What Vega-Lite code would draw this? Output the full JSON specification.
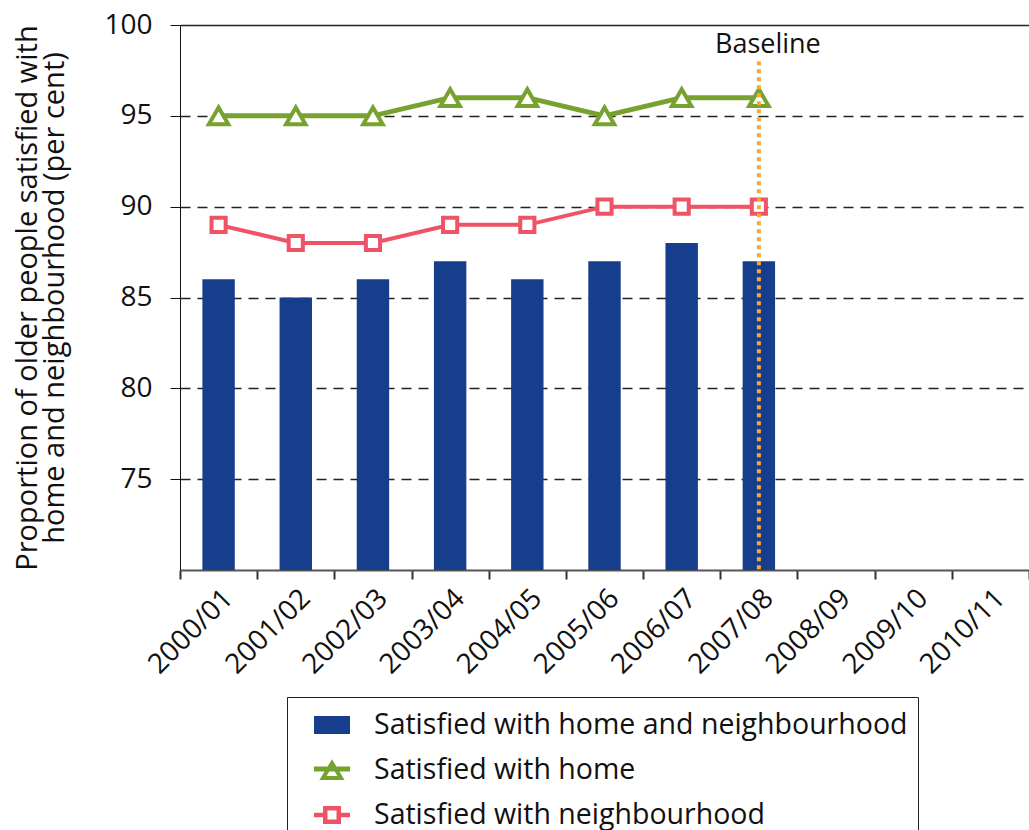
{
  "$schema": "https://vega.github.io/schema/vega-lite/v6.json",
  "width": 849,
  "height": 545,
  "autosize": "none",
  "padding": {"left": 180, "top": 25, "right": 0, "bottom": 260},
  "background": "white",
  "config": {
    "font": "Open Sans",
    "view": {"stroke": null}
  },
  "datasets": {
    "bars": [
      {"year": "2000/01", "series": "Satisfied with home and neighbourhood", "value": 86},
      {"year": "2001/02", "series": "Satisfied with home and neighbourhood", "value": 85},
      {"year": "2002/03", "series": "Satisfied with home and neighbourhood", "value": 86},
      {"year": "2003/04", "series": "Satisfied with home and neighbourhood", "value": 87},
      {"year": "2004/05", "series": "Satisfied with home and neighbourhood", "value": 86},
      {"year": "2005/06", "series": "Satisfied with home and neighbourhood", "value": 87},
      {"year": "2006/07", "series": "Satisfied with home and neighbourhood", "value": 88},
      {"year": "2007/08", "series": "Satisfied with home and neighbourhood", "value": 87}
    ],
    "home": [
      {"year": "2000/01", "series": "Satisfied with home", "value": 95},
      {"year": "2001/02", "series": "Satisfied with home", "value": 95},
      {"year": "2002/03", "series": "Satisfied with home", "value": 95},
      {"year": "2003/04", "series": "Satisfied with home", "value": 96},
      {"year": "2004/05", "series": "Satisfied with home", "value": 96},
      {"year": "2005/06", "series": "Satisfied with home", "value": 95},
      {"year": "2006/07", "series": "Satisfied with home", "value": 96},
      {"year": "2007/08", "series": "Satisfied with home", "value": 96}
    ],
    "neigh": [
      {"year": "2000/01", "series": "Satisfied with neighbourhood", "value": 89},
      {"year": "2001/02", "series": "Satisfied with neighbourhood", "value": 88},
      {"year": "2002/03", "series": "Satisfied with neighbourhood", "value": 88},
      {"year": "2003/04", "series": "Satisfied with neighbourhood", "value": 89},
      {"year": "2004/05", "series": "Satisfied with neighbourhood", "value": 89},
      {"year": "2005/06", "series": "Satisfied with neighbourhood", "value": 90},
      {"year": "2006/07", "series": "Satisfied with neighbourhood", "value": 90},
      {"year": "2007/08", "series": "Satisfied with neighbourhood", "value": 90}
    ],
    "baseline": [
      {"year": "2007/08", "top": 98, "bottom": 70, "labelpos": 98.9, "label": "Baseline"}
    ]
  },
  "encoding": {
    "x": {
      "field": "year",
      "type": "nominal",
      "sort": null,
      "scale": {
        "domain": ["2000/01","2001/02","2002/03","2003/04","2004/05","2005/06","2006/07","2007/08","2008/09","2009/10","2010/11"],
        "paddingInner": 0,
        "paddingOuter": 0
      },
      "axis": {
        "title": null,
        "labelAngle": -45,
        "labelFontSize": 28,
        "labelColor": "#111",
        "labelPadding": 5,
        "tickBand": "extent",
        "tickSize": 9,
        "tickColor": "#333",
        "tickWidth": 2,
        "domainColor": "#555",
        "domainWidth": 2,
        "grid": false
      }
    }
  },
  "layer": [
    {
      "data": {"name": "bars"},
      "mark": {"type": "bar", "width": {"band": 0.42}},
      "encoding": {
        "y": {
          "field": "value",
          "type": "quantitative",
          "scale": {"domain": [70, 100], "zero": false, "nice": false},
          "axis": {
            "title": ["Proportion of older people satisfied with", "home and neighbourhood (per cent)"],
            "titleFontSize": 29,
            "titleFontWeight": "normal",
            "titleColor": "#111",
            "titleLineHeight": 27,
            "titlePadding": 34,
            "values": [75, 80, 85, 90, 95, 100],
            "labelFontSize": 28,
            "labelColor": "#111",
            "labelPadding": 18,
            "tickSize": 10,
            "tickColor": "#111",
            "domainColor": "#111",
            "grid": true,
            "gridColor": "#222",
            "gridWidth": 1.3,
            "gridDash": {"condition": {"test": "datum.value === 100", "value": []}, "value": [10, 7]}
          }
        },
        "y2": {"datum": 70},
        "color": {
          "field": "series",
          "type": "nominal",
          "scale": {
            "domain": ["Satisfied with home and neighbourhood", "Satisfied with home", "Satisfied with neighbourhood"],
            "range": ["#163E8C", "#78A22F", "#EF5466"]
          },
          "legend": {
            "title": null,
            "orient": "none",
            "legendX": 107,
            "legendY": 672,
            "direction": "vertical",
            "strokeColor": "#222",
            "fillColor": "white",
            "padding": 10,
            "symbolOffset": 17,
            "labelOffset": 24,
            "labelFontSize": 28.5,
            "labelColor": "#111",
            "labelLimit": 800,
            "symbolSize": 1296,
            "symbolStrokeWidth": 0,
            "rowPadding": 12,
            "encode": {
              "symbols": {
                "update": {
                  "shape": {"signal": "datum.value === 'Satisfied with home' ? 'M0,-0.6L0.7,0.55L-0.7,0.55Z M0,-0.17L-0.3,0.33L0.3,0.33Z M-1,-0.2H1V0.08H-1Z' : datum.value === 'Satisfied with neighbourhood' ? 'M-0.5,-0.5H0.5V0.5H-0.5Z M-0.25,-0.25V0.25H0.25V-0.25Z M-1,-0.13H-0.5V0.13H-1Z M0.5,-0.13H1V0.13H0.5Z' : 'M-1,-0.5H1V0.5H-1Z'"},
                  "fill": {"signal": "datum.value === 'Satisfied with home and neighbourhood' ? '#163E8C' : datum.value === 'Satisfied with home' ? '#78A22F' : '#EF5466'"},
                  "strokeWidth": {"value": 0},
                  "opacity": {"value": 1}
                }
              }
            }
          }
        }
      }
    },
    {
      "data": {"name": "home"},
      "mark": {"type": "line", "strokeWidth": 5, "point": {"shape": "triangle-up", "size": 380, "filled": true, "fill": "white", "stroke": "#78A22F", "strokeWidth": 4}},
      "encoding": {
        "y": {"field": "value", "type": "quantitative"},
        "color": {"field": "series", "type": "nominal"}
      }
    },
    {
      "data": {"name": "neigh"},
      "mark": {"type": "line", "strokeWidth": 4, "point": {"shape": "square", "size": 200, "filled": true, "fill": "white", "stroke": "#EF5466", "strokeWidth": 4}},
      "encoding": {
        "y": {"field": "value", "type": "quantitative"},
        "color": {"field": "series", "type": "nominal"}
      }
    },
    {
      "data": {"name": "baseline"},
      "mark": {"type": "rule", "color": "#F9A932", "strokeWidth": 4, "strokeDash": [4, 4]},
      "encoding": {
        "y": {"field": "top", "type": "quantitative"},
        "y2": {"field": "bottom"}
      }
    },
    {
      "data": {"name": "baseline"},
      "mark": {"type": "text", "fontSize": 27, "color": "#111", "align": "center", "baseline": "middle", "dx": 9},
      "encoding": {
        "y": {"field": "labelpos", "type": "quantitative"},
        "text": {"field": "label"}
      }
    }
  ]
}
